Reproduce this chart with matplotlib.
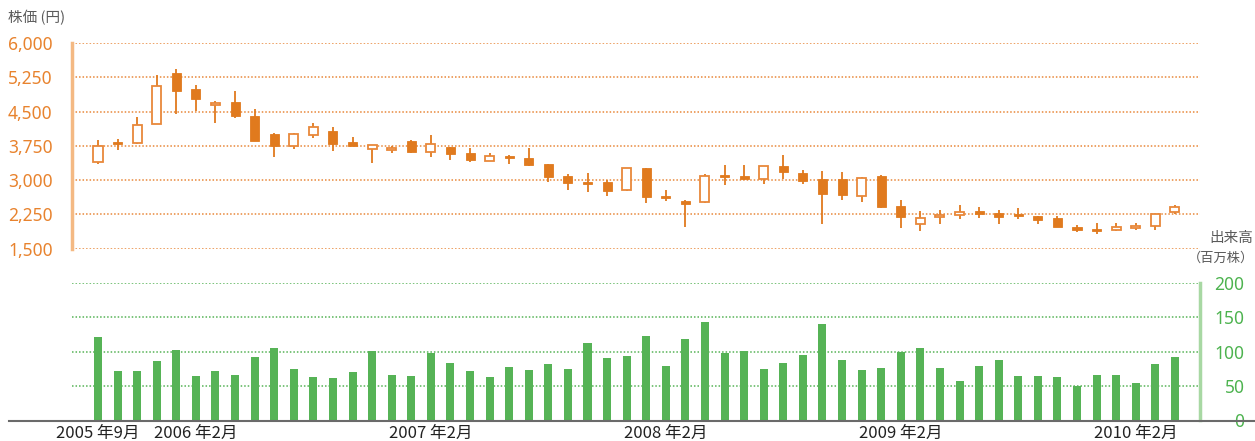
import matplotlib
matplotlib.use("Agg")
import matplotlib.pyplot as plt
from matplotlib.lines import Line2D
import numpy as np

plt.rcParams['font.family'] = ['Noto Sans CJK JP', 'DejaVu Sans']

# ---- data (monthly, 2005-09 .. 2010-04) ----
opens  = [3397, 3830, 3806, 4222, 5344, 4994, 4650, 4710, 4404, 4010,
          3747, 3988, 4075, 3835, 3682, 3653, 3857, 3610, 3725, 3594,
          3426, 3529, 3485, 3354, 3091, 2960, 2960, 2778, 3260, 2647,
          2538, 2516, 3113, 3091, 3019, 3310, 3157, 3026, 3026, 2647,
          3091, 2435, 2048, 2188, 2232, 2333, 2282, 2253, 2217, 2173,
          1969, 1932, 1910, 1954, 1998, 2297]
closes = [3754, 3800, 4200, 5053, 4957, 4775, 4694, 4404, 3863, 3754,
          4003, 4156, 3798, 3754, 3763, 3697, 3623, 3798, 3579, 3448,
          3522, 3492, 3339, 3076, 2945, 2923, 2770, 3260, 2639, 2617,
          2486, 3085, 3076, 3032, 3310, 3185, 2989, 2704, 2682, 3048,
          2420, 2201, 2166, 2232, 2304, 2267, 2195, 2223, 2136, 1983,
          1917, 1895, 1969, 2005, 2253, 2407]
highs  = [3879, 3894, 4382, 5300, 5431, 5081, 4732, 4950, 4557, 4032,
          4025, 4250, 4163, 3944, 3763, 3754, 3879, 3988, 3725, 3704,
          3594, 3551, 3704, 3354, 3135, 3157, 3000, 3260, 3260, 2779,
          2560, 3135, 3332, 3332, 3310, 3551, 3223, 3201, 3179, 3070,
          3113, 2566, 2326, 2348, 2457, 2413, 2348, 2391, 2217, 2217,
          2020, 2063, 2056, 2056, 2253, 2457]
lows   = [3360, 3667, 3800, 4222, 4447, 4519, 4257, 4366, 3860, 3513,
          3688, 3929, 3645, 3750, 3382, 3601, 3601, 3513, 3448, 3404,
          3420, 3360, 3317, 2967, 2792, 2748, 2660, 2770, 2507, 2551,
          1983, 2510, 2895, 2997, 2923, 3026, 2923, 2048, 2573, 2516,
          2398, 1961, 1895, 2048, 2157, 2180, 2048, 2157, 2048, 1983,
          1873, 1830, 1895, 1917, 1917, 2253]
volume = [121, 72, 72, 86, 102, 64, 72, 66, 92, 105,
          74, 63, 61, 70, 101, 66, 64, 98, 83, 72,
          63, 77, 73, 82, 74, 112, 90, 93, 123, 79,
          118, 143, 98, 101, 74, 83, 95, 140, 88, 73,
          76, 99, 106, 76, 57, 79, 88, 64, 64, 63,
          50, 66, 66, 54, 82, 92]
tick_idx = [0, 5, 17, 29, 41, 53]
tick_labels = ["2005 年9月", "2006 年2月", "2007 年2月", "2008 年2月",
               "2009 年2月", "2010 年2月"]
price_ticks = [1500, 2250, 3000, 3750, 4500, 5250, 6000]
vol_ticks = [0, 50, 100, 150, 200]
vol_grid = [50, 100, 150, 200]

# ---- colours ----
ORANGE = '#e07a1e'
ORANGE_EDGE = '#e8883a'
ORANGE_TXT = '#e8832e'
ORANGE_SPINE = '#f4b983'
GREEN = '#56b356'
GREEN_TXT = '#4db34f'
GREEN_SPINE = '#a8d8a3'
GRAY_TXT = '#5a5a5a'

W, H = 1255, 441
fig = plt.figure(figsize=(W / 100, H / 100), dpi=100)

x = np.arange(len(opens))
xmin, xmax = (72 - 98) / 19.58, (1200 - 98) / 19.58

# ---- price axes ----
axp = fig.add_axes([72 / W, 1 - 248.7 / H, 1128 / W, 205.7 / H])
axp.set_xlim(xmin, xmax)
axp.set_ylim(1500, 6000)
o = np.array(opens); c = np.array(closes)
up = c >= o
bottoms = np.minimum(o, c)
heights = np.maximum(np.abs(c - o), 15)
axp.vlines(x, lows, highs, color=ORANGE, lw=1.3, zorder=2)
axp.bar(x[~up], heights[~up], bottom=bottoms[~up], width=0.46,
        color=ORANGE, edgecolor=ORANGE, lw=0.6, zorder=3)
axp.bar(x[up], heights[up], bottom=bottoms[up], width=0.46,
        color='white', edgecolor=ORANGE_EDGE, lw=1.3, zorder=3)
axp.set_yticks(price_ticks)
axp.set_yticklabels([f"{v:,}" for v in price_ticks], color=ORANGE_TXT,
                    fontsize=12.5, family=['Noto Sans', 'DejaVu Sans'])
axp.tick_params(axis='y', length=0, pad=14)
axp.set_xticks([])
axp.grid(axis='y', color=ORANGE_EDGE, ls=(0, (1, 1.3)), lw=1.1)
axp.set_axisbelow(True)
for s in ['top', 'right', 'bottom']:
    axp.spines[s].set_visible(False)
axp.spines['left'].set_color(ORANGE_SPINE)
axp.spines['left'].set_linewidth(2.5)

# ---- volume axes ----
axv = fig.add_axes([72 / W, 1 - 420 / H, 1128 / W, 136.7 / H])
axv.set_xlim(xmin, xmax)
axv.set_ylim(0, 200)
axv.bar(x, volume, width=0.41, color=GREEN, zorder=3)
axv.hlines(vol_grid, xmin, xmax, color=GREEN, ls=(0, (1, 1.3)), lw=1.1, zorder=1)
axv.yaxis.tick_right()
axv.set_yticks(vol_ticks)
axv.set_yticklabels([str(v) for v in vol_ticks], color=GREEN_TXT,
                    fontsize=12.5, ha='right', family=['Noto Sans', 'DejaVu Sans'])
axv.tick_params(axis='y', length=0, pad=32)
axv.set_xticks(tick_idx)
axv.set_xticklabels(tick_labels, fontsize=12, color='#222222')
axv.tick_params(axis='x', length=0, pad=3.5)
for s in ['top', 'left', 'bottom']:
    axv.spines[s].set_visible(False)
axv.spines['right'].set_color(GREEN_SPINE)
axv.spines['right'].set_linewidth(2.5)

# baseline across the figure
yb = 1 - 420.5 / H
fig.add_artist(Line2D([9 / W, 1], [yb, yb], transform=fig.transFigure,
                      color='#6a6a6a', lw=1.5, zorder=5))

# ---- titles ----
fig.text(8 / W, 1 - 18 / H, "株価 (円)", fontsize=10.5, color=GRAY_TXT,
         va='center', ha='left')
fig.text(1253 / W, 1 - 238 / H, "出来高", fontsize=10.5, color=GRAY_TXT,
         va='center', ha='right')
fig.text(1254 / W, 1 - 258 / H, "（百万株）", fontsize=9.5, color=GRAY_TXT,
         va='center', ha='right')

fig.savefig("out.png", dpi=100)
